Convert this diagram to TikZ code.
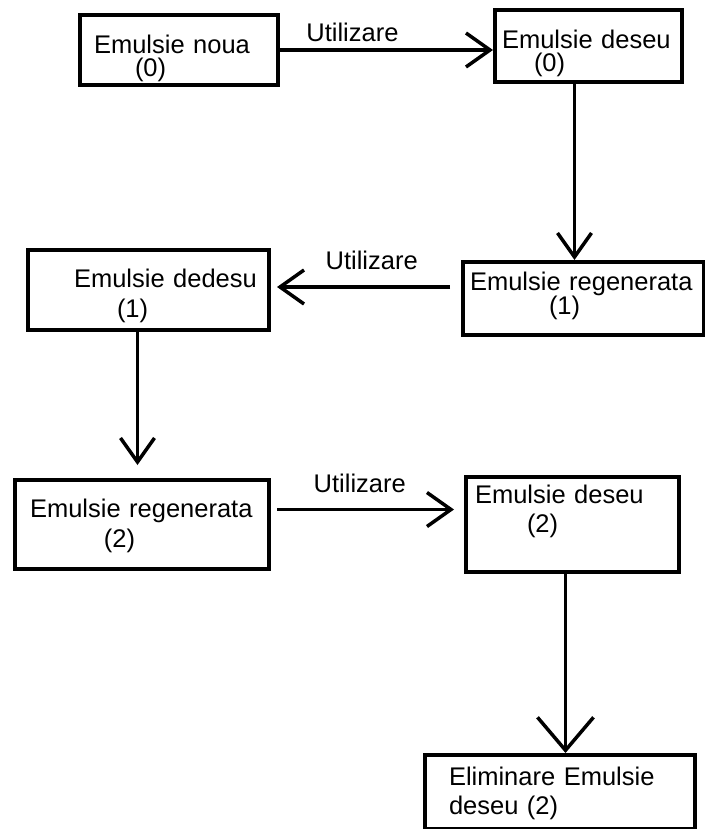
\documentclass[tikz,border=0pt]{standalone}
\usepackage{fontspec}
\setmainfont{Liberation Sans}
\usepackage{tikz}
\usetikzlibrary{arrows.meta, calc}

\begin{document}
\begin{tikzpicture}[x=1pt, y=-1pt,
    main/.style = {draw, line width=4pt, anchor=north west, inner sep=0pt, align=left, font=\fontsize{25.5}{29}\selectfont},
    flow/.style = {line width=3.5pt, -{Straight Barb[length=24pt, width=34pt, line width=3.5pt]}},
    flowbig/.style = {line width=3.5pt, -{Straight Barb[length=33pt, width=56pt, line width=3.5pt]}},
    tag/.style = {anchor=base, inner sep=0pt, font=\fontsize{25.5}{29}\selectfont}]
    \useasboundingbox (0,0) rectangle (704,829);

    \node[main, text width=198pt, text height=39pt, text depth=31pt] (1) at (78,13)
        {\hspace*{14pt}Emulsie noua\\[-6pt]\hspace*{55pt}(0)};
    \node[main, text width=187pt, text height=39pt, text depth=33pt] (2) at (493,8)
        {\hspace*{7pt}Emulsie deseu\\[-6pt]\hspace*{39pt}(0)};
    \node[main, text width=241pt, text height=37pt, text depth=43pt] (3) at (26,248)
        {\hspace*{46pt}Emulsie dedesu\\[1pt]\hspace*{89pt}(1)};
    \node[main, text width=241pt, text height=28pt, text depth=45pt] (4) at (461,260)
        {\hspace*{7pt}Emulsie regenerata\\[-5pt]\hspace*{86pt}(1)};
    \node[main, text width=254pt, text height=37pt, text depth=52pt] (5) at (13,478)
        {\hspace*{15pt}Emulsie regenerata\\[1pt]\hspace*{89pt}(2)};
    \node[main, text width=213pt, text height=26pt, text depth=69pt] (6) at (464,475)
        {\hspace*{9pt}Emulsie deseu\\\hspace*{61pt}(2)};
    \node[main, text width=270pt, text height=30pt, text depth=44pt] (7) at (423,753)
        {\hspace*{24pt}Eliminare Emulsie\\\hspace*{24pt}deseu (2)};

    \draw[flow] (1.east) -- (1.east -| 2.west)
        node[tag, pos=0.34, yshift=8pt] {Utilizare};
    \draw[flow] ($(2.south)+(-14,0)$) -- ($(2.south |- 4.north)+(-14,0)$);
    \draw[flow, shorten <=11pt, shorten >=6pt] ($(4.west |- 3.east)+(0,-3)$) -- ($(3.east)+(0,-3)$)
        node[tag, pos=0.47, yshift=18pt] {Utilizare};
    \draw[flow, shorten >=13pt] ($(3.south)+(-11,0)$) -- ($(3.south |- 5.north)+(-11,0)$);
    \draw[flow, shorten <=6pt, shorten >=10pt] ($(5.east)+(0,-15)$) -- ($(5.east -| 6.west)+(0,-15)$)
        node[tag, pos=0.46, yshift=17pt] {Utilizare};
    \draw[flowbig] ($(6.south)+(-7,0)$) -- ($(6.south |- 7.north)+(-7,0)$);

\end{tikzpicture}
\end{document}
